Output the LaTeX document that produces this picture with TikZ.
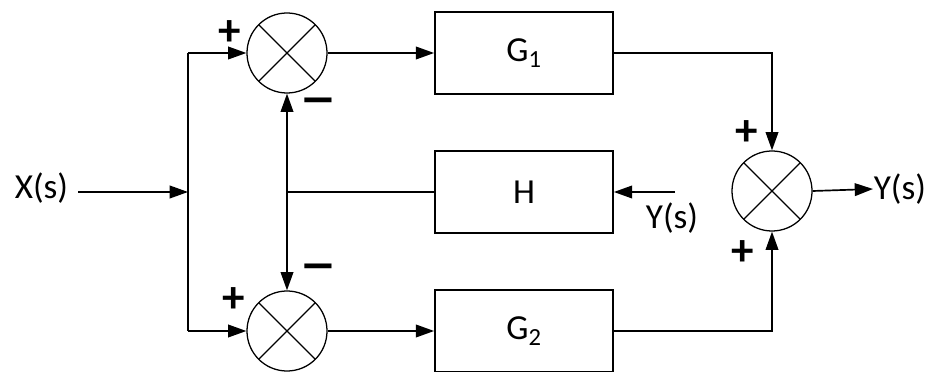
\documentclass[tikz,border=0pt]{standalone}
\usepackage{fontspec}
\setmainfont{Carlito}
\usetikzlibrary{arrows.meta}

\begin{document}
\begin{tikzpicture}[x=0.025cm, y=-0.025cm, line width=1.2pt,
  >={Triangle[length=13pt,width=9pt]},
  blk/.style={draw, minimum width=4.45cm, minimum height=2.05cm, font=\fontsize{25}{29}\selectfont},
  sum/.style={draw, circle, line width=0.9pt, minimum size=2cm,
    path picture={\draw[line width=0.9pt]
      (path picture bounding box.north west) -- (path picture bounding box.south east)
      (path picture bounding box.north east) -- (path picture bounding box.south west);}},
  sgn/.style={font=\fontsize{32}{32}\selectfont\bfseries, inner sep=0pt},
  neg/.style={font=\fontsize{54}{54}\selectfont, inner sep=0pt},
  lbl/.style={font=\fontsize{25}{29}\selectfont, inner sep=0pt}]
\useasboundingbox (0,0) rectangle (931,372);

% summing points
\node [sum] (S1) at (287,53) {};
\node [sum] (S2) at (287,331) {};
\node [sum] (S3) at (772,191) {};

% blocks
\node [blk] (G1) at (524,53) {G\textsubscript{1}};
\node [blk] (H) at (524,192) {H};
\node [blk] (G2) at (524,331) {G\textsubscript{2}};

% branch points
\coordinate (X) at (78,192);
\coordinate (B) at (188,192);
\coordinate (J) at (287,192);
\coordinate (Y) at (675,192);

% signals
\node [lbl, anchor=east] (Xs) at (69,188) {X(s)};
\node [lbl] (Yh) at (672,218) {Y(s)};
\node [lbl, anchor=west] (Yo) at (873,189) {Y(s)};

\draw [->] (X) -- (B);
\draw (S1.west -| B) -- (S2.west -| B);
\draw [->] (S1.west -| B) -- (S1.west);
\draw [->] (S2.west -| B) -- (S2.west);
\draw [->] (S1.east) -- (G1.west);
\draw [->] (S2.east) -- (G2.west);
\draw (H.west) -- (J);
\draw [->] (J) -- (S1.south);
\draw [->] (J) -- (S2.north);
\draw [->] (Y) -- (H.east);
\draw [->] (G1.east) -| (S3.north);
\draw [->] (G2.east) -| (S3.south);
\draw [->] (S3.east) -- (Yo.west);

% signs
\node [sgn] at (230,33) {+};
\node [sgn] at (234,300) {+};
\node [neg] at (318,110) {--};
\node [neg] at (318,276) {--};
\node [sgn] at (747,133) {+};
\node [sgn] at (743,253) {+};

\end{tikzpicture}
\end{document}
